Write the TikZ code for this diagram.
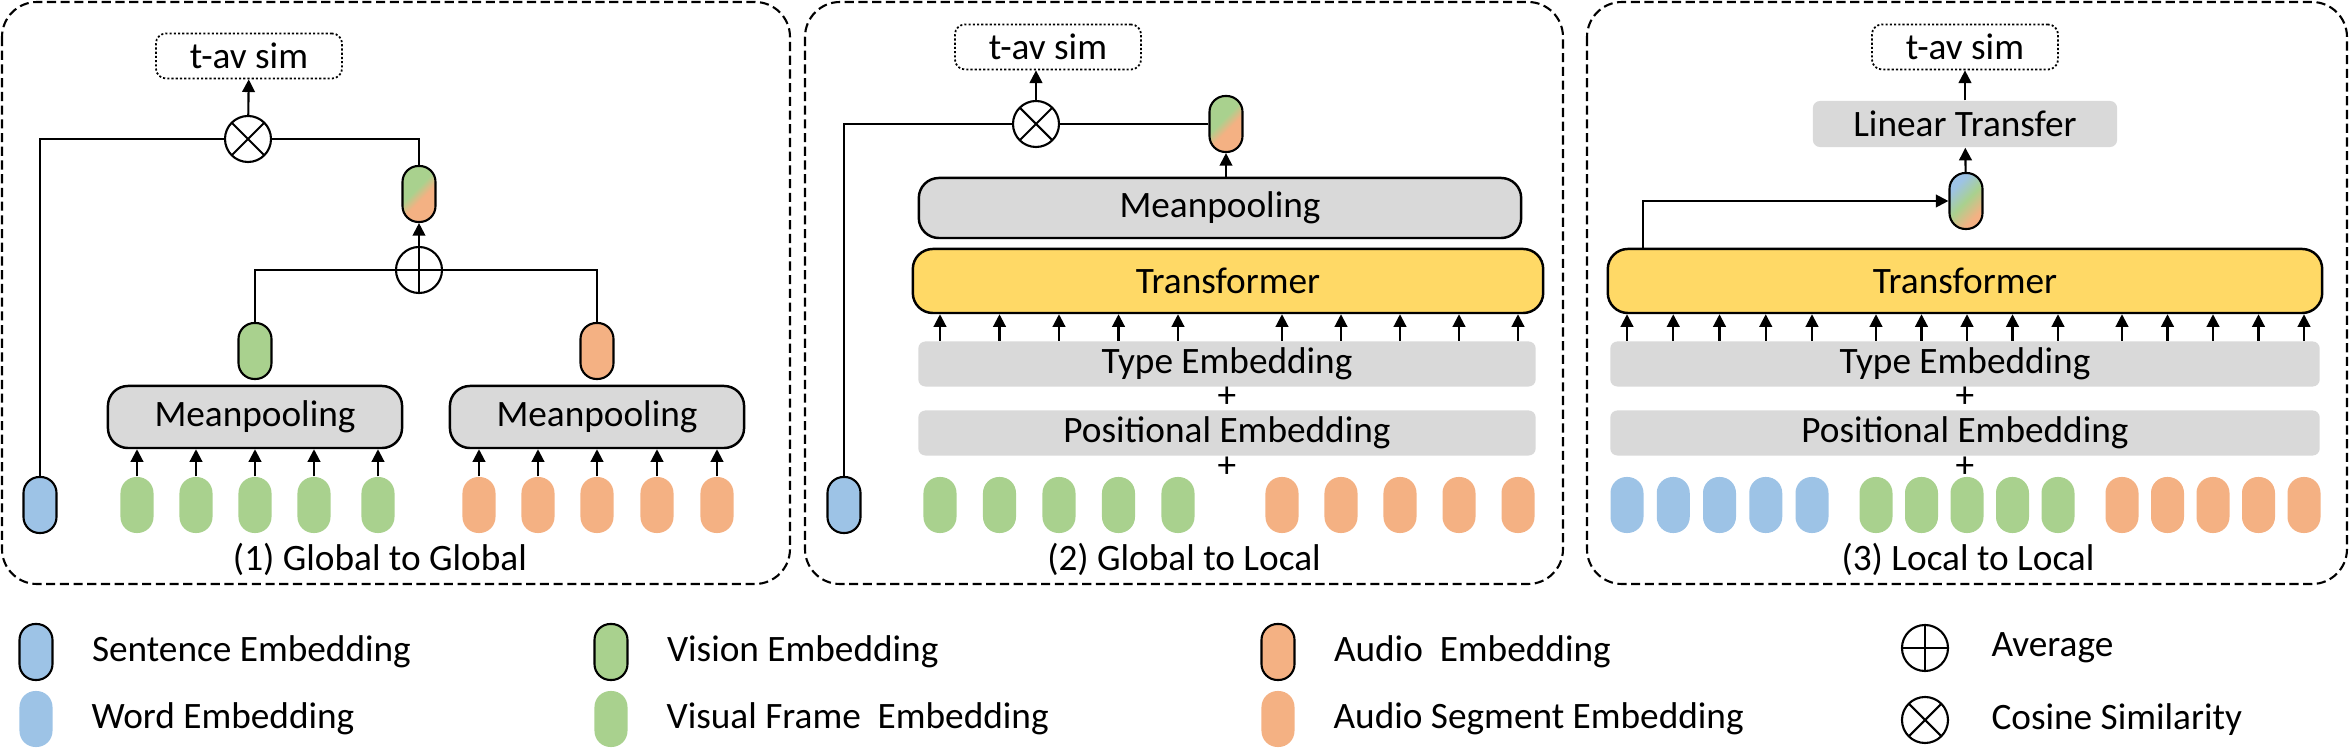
\documentclass[tikz,border=0pt]{standalone}
\usepackage{fontspec}
\setmainfont{Carlito}
\usetikzlibrary{arrows.meta,positioning}

\definecolor{sentblue}{HTML}{9DC3E6}
\definecolor{visgreen}{HTML}{A9D18E}
\definecolor{audorange}{HTML}{F4B183}
\definecolor{boxgray}{HTML}{D9D9D9}
\definecolor{trfyellow}{HTML}{FFD966}

\pgfdeclareverticalshading{avshade}{100bp}{color(0bp)=(audorange); color(44bp)=(audorange); color(56bp)=(visgreen); color(100bp)=(visgreen)}
\pgfdeclareverticalshading{tavshade}{100bp}{color(0bp)=(audorange); color(30bp)=(audorange); color(50bp)=(visgreen); color(70bp)=(sentblue); color(100bp)=(sentblue)}

\tikzset{
  panel/.style={draw, line width=0.6pt, dash pattern=on 2.6pt off 1.3pt, rounded corners=0.35cm},
  token/.style={rectangle, rounded corners=0.16cm, minimum width=0.33cm, minimum height=0.56cm, inner sep=0pt},
  emb/.style={token, draw, line width=0.6pt},
  avmix/.style={shading=avshade, shading angle=45},
  tavmix/.style={shading=tavshade, shading angle=45},
  simbox/.style={draw, line width=0.5pt, dash pattern=on 0.6pt off 0.6pt, rounded corners=0.1cm, minimum width=1.86cm, minimum height=0.45cm, inner sep=0pt},
  pool/.style={draw, fill=boxgray, line width=0.7pt, rounded corners=0.2cm, minimum height=0.62cm},
  trf/.style={pool, fill=trfyellow},
  layer/.style={fill=boxgray, rounded corners=0.07cm, minimum height=0.45cm, inner sep=0pt},
  plus/.style={inner sep=0pt},
  opnode/.style={circle, draw, line width=0.6pt, minimum size=0.46cm, inner sep=0pt},
  cosim/.style={opnode, path picture={\draw[line width=0.6pt] (path picture bounding box.north west) -- (path picture bounding box.south east) (path picture bounding box.south west) -- (path picture bounding box.north east);}},
  avg/.style={opnode, path picture={\draw[line width=0.6pt] (path picture bounding box.north) -- (path picture bounding box.south) (path picture bounding box.west) -- (path picture bounding box.east);}},
  conn/.style={line width=0.6pt},
  arr/.style={conn, -{Triangle[length=3.6pt,width=3.6pt]}},
}

\begin{document}
\begin{tikzpicture}[x=0.01cm, y=-0.01cm, font=\fontsize{10.6}{13}\selectfont]
\useasboundingbox (0,0) rectangle (2350,749);

% (1) global to global
\draw[panel] (2,2) rectangle (790,584);
\node[simbox] (sim1) at (249,56) {t-av sim};
\node[cosim] (cos1) at (248,139) {};
\node[emb, fill=sentblue] (sent1) at (40,505) {};
\node[emb, avmix] (av1) at (419,194) {};
\node[avg] (avg1) at (419,270) {};
\node[emb, fill=visgreen] (vis1) at (255,351) {};
\node[emb, fill=audorange] (aud1) at (597,351) {};
\node[pool, minimum width=2.94cm] (vpool1) at (255,417) {Meanpooling};
\node[pool, minimum width=2.94cm] (apool1) at (597,417) {Meanpooling};
\foreach \x [count=\i] in {137,196,255,314,378}
  \node[token, fill=visgreen] (f1\i) at (\x,505) {};
\foreach \x [count=\i] in {479,538,597,657,717}
  \node[token, fill=audorange] (s1\i) at (\x,505) {};
\foreach \i in {1,...,5}{
  \draw[arr] (f1\i) -- (f1\i |- vpool1.south);
  \draw[arr] (s1\i) -- (s1\i |- apool1.south);
}
\draw[arr] (cos1) -- (sim1);
\draw[conn] (sent1.north) |- (cos1.west);
\draw[conn] (cos1.east) -| (av1.north);
\draw[arr] (avg1) -- (av1);
\draw[conn] (vis1.north) |- (avg1.west);
\draw[conn] (aud1.north) |- (avg1.east);
\node (cap1) at (380,559) {(1) Global to Global};

% (2) global to local
\draw[panel] (805,2) rectangle (1563,584);
\node[simbox] (sim2) at (1048,47) {t-av sim};
\node[cosim] (cos2) at (1036,124) {};
\node[emb, fill=sentblue] (sent2) at (844,505) {};
\node[emb, avmix] (av2) at (1226,124) {};
\node[pool, minimum width=6.02cm, minimum height=0.6cm] (pool2) at (1220,208) {Meanpooling};
\node[trf, minimum width=6.3cm, minimum height=0.64cm] (trf2) at (1228,281) {Transformer};
\node[layer, minimum width=6.17cm] (type2) at (1227,364) {Type Embedding};
\node[plus] (plus2a) at (1227,397) {+};
\node[layer, minimum width=6.17cm] (pos2) at (1227,433) {Positional Embedding};
\node[plus] (plus2b) at (1227,467) {+};
\foreach \i in {0,...,4}{
  \node[token, fill=visgreen] (f2\i) at (940+59.5*\i,505) {};
  \node[token, fill=audorange] (s2\i) at (1282+59*\i,505) {};
  \draw[arr] (f2\i |- type2.north) -- (f2\i |- trf2.south);
  \draw[arr] (s2\i |- type2.north) -- (s2\i |- trf2.south);
}
\draw[arr] (cos2) -- (cos2 |- sim2.south);
\draw[conn] (sent2.north) |- (cos2.west);
\draw[conn] (cos2.east) -- (av2.west);
\draw[arr] (av2.south |- pool2.north) -- (av2.south);
\node (cap2) at (1184,559) {(2) Global to Local};

% (3) local to local
\draw[panel] (1587,2) rectangle (2347,584);
\node[simbox] (sim3) at (1965,47) {t-av sim};
\node[layer, minimum width=3.04cm, minimum height=0.46cm] (lin3) at (1965,124) {Linear Transfer};
\node[emb, tavmix] (tav3) at (1966,201) {};
\node[trf, minimum width=7.14cm, minimum height=0.64cm] (trf3) at (1965,281) {Transformer};
\node[layer, minimum width=7.09cm] (type3) at (1965,364) {Type Embedding};
\node[plus] (plus3a) at (1965,397) {+};
\node[layer, minimum width=7.09cm] (pos3) at (1965,433) {Positional Embedding};
\node[plus] (plus3b) at (1965,467) {+};
\coordinate (cls3) at (1643,281);
\foreach \i in {0,...,4}{
  \node[token, fill=sentblue] (w3\i) at (1627+46.25*\i,505) {};
  \node[token, fill=visgreen] (f3\i) at (1876+45.5*\i,505) {};
  \node[token, fill=audorange] (s3\i) at (2122+45.5*\i,505) {};
  \draw[arr] (w3\i |- type3.north) -- (w3\i |- trf3.south);
  \draw[arr] (f3\i |- type3.north) -- (f3\i |- trf3.south);
  \draw[arr] (s3\i |- type3.north) -- (s3\i |- trf3.south);
}
\draw[arr] (cls3 |- trf3.north) |- (tav3.west);
\draw[arr] (tav3) -- (lin3);
\draw[arr] (lin3) -- (sim3);
\node (cap3) at (1968,559) {(3) Local to Local};

% legend
\node[emb, fill=sentblue] (lsent) at (36,652) {};
\node[right=0.26cm of lsent] (lsenttxt) {Sentence Embedding};
\node[token, fill=sentblue] (lword) at (36,719) {};
\node[right=0.26cm of lword] (lwordtxt) {Word Embedding};
\node[emb, fill=visgreen] (lvis) at (611,652) {};
\node[right=0.26cm of lvis] (lvistxt) {Vision Embedding};
\node[token, fill=visgreen] (lframe) at (611,719) {};
\node[right=0.26cm of lframe] (lframetxt) {Visual Frame\ \ Embedding};
\node[emb, fill=audorange] (laud) at (1278,652) {};
\node[right=0.26cm of laud] (laudtxt) {Audio\ \ Embedding};
\node[token, fill=audorange] (lseg) at (1278,719) {};
\node[right=0.26cm of lseg] (lsegtxt) {Audio Segment Embedding};
\node[avg] (lavg) at (1925,648) {};
\node[right=0.3cm of lavg] (lavgtxt) {Average};
\node[cosim] (lcos) at (1925,720) {};
\node[right=0.3cm of lcos] (lcostxt) {Cosine Similarity};
\end{tikzpicture}
\end{document}
